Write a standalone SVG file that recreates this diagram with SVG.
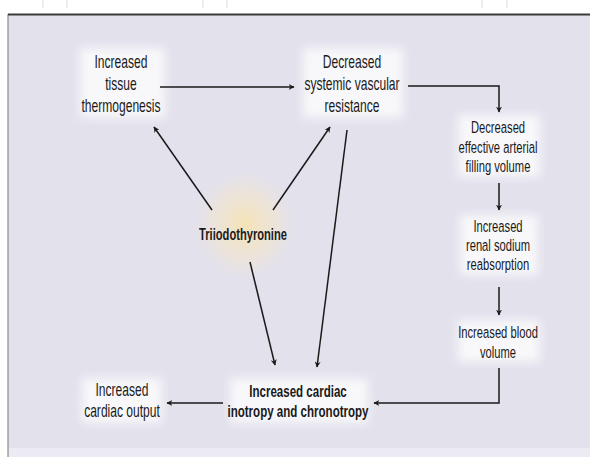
<svg xmlns="http://www.w3.org/2000/svg" width="590" height="457" viewBox="0 0 590 457">
<defs>
<style>
.t{font-family:"Liberation Sans",Arial,sans-serif;fill:#1a1a1a;text-anchor:middle;font-size:17.5px}
.s{font-size:16.5px}
.b{font-weight:bold;font-size:17px}
.c{fill:none;stroke:#1a1a1a;stroke-width:1.5}
</style>
<marker id="ah" viewBox="0 0 10 10" refX="9" refY="5" markerWidth="6" markerHeight="6" orient="auto" markerUnits="userSpaceOnUse">
<path d="M0,0 L10,5 L0,10 L3,5 z" fill="#1a1a1a"/>
</marker>
<radialGradient id="glow" cx="0.5" cy="0.5" r="0.5">
<stop offset="0" stop-color="#f7e3b2" stop-opacity="0.95"/>
<stop offset="0.6" stop-color="#f3e6cc" stop-opacity="0.5"/>
<stop offset="1" stop-color="#e3e1ec" stop-opacity="0"/>
</radialGradient>
<filter id="blur" x="-30%" y="-30%" width="160%" height="160%"><feGaussianBlur stdDeviation="5"/></filter>
</defs>
<rect x="0" y="0" width="590" height="457" fill="#ffffff"/>
<g stroke="#e2e2e2" stroke-width="1.2">
<line x1="43" y1="0" x2="43" y2="8"/><line x1="67" y1="0" x2="67" y2="8"/>
<line x1="203" y1="0" x2="203" y2="8"/><line x1="227" y1="0" x2="227" y2="8"/>
<line x1="482" y1="0" x2="482" y2="8"/><line x1="507" y1="0" x2="507" y2="8"/>
</g>
<rect x="8" y="14" width="582" height="443" fill="#eceaf2"/>
<rect x="8" y="14" width="582" height="434" fill="#e3e1ec"/>
<line x1="8" y1="14" x2="8" y2="457" stroke="#8a8a8a" stroke-width="1.2"/>
<line x1="8" y1="14.5" x2="590" y2="14.5" stroke="#3a3a3a" stroke-width="2"/>
<g filter="url(#blur)" fill="#ffffff" opacity="0.75">
<rect x="80" y="48" width="85" height="70"/>
<rect x="303" y="48" width="100" height="70"/>
<rect x="458" y="115" width="82" height="62"/>
<rect x="460" y="215" width="78" height="60"/>
<rect x="458" y="320" width="82" height="42"/>
<rect x="82" y="378" width="80" height="45"/>
<rect x="230" y="378" width="138" height="45"/>
</g>
<ellipse cx="245" cy="225" rx="55" ry="60" fill="url(#glow)"/>
<g id="connectors">
<line class="c" x1="160" y1="87" x2="294" y2="87" marker-end="url(#ah)"/>
<polyline class="c" points="408,86 499,86 499,112" marker-end="url(#ah)"/>
<line class="c" x1="499" y1="183" x2="499" y2="210" marker-end="url(#ah)"/>
<line class="c" x1="499" y1="287" x2="499" y2="315" marker-end="url(#ah)"/>
<polyline class="c" points="499,368 499,403 374,403" marker-end="url(#ah)"/>
<line class="c" x1="223" y1="403" x2="167" y2="403" marker-end="url(#ah)"/>
<line class="c" x1="212" y1="210" x2="154" y2="127" marker-end="url(#ah)"/>
<line class="c" x1="273" y1="210" x2="330" y2="127" marker-end="url(#ah)"/>
<line class="c" x1="250" y1="262" x2="275" y2="365" marker-end="url(#ah)"/>
<line class="c" x1="347" y1="130" x2="317" y2="367" marker-end="url(#ah)"/>
</g>
<g id="thermogenesis" transform="translate(121,0) scale(0.69,1)"><text class="t" x="0" y="68">Increased</text><text class="t" x="0" y="90">tissue</text><text class="t" x="0" y="112">thermogenesis</text></g>
<g id="svr" transform="translate(352,0) scale(0.69,1)"><text class="t" x="0" y="68">Decreased</text><text class="t" x="0" y="90">systemic vascular</text><text class="t" x="0" y="112">resistance</text></g>
<g id="eafv" transform="translate(498,0) scale(0.68,1)"><text class="t s" x="0" y="133">Decreased</text><text class="t s" x="0" y="153">effective arterial</text><text class="t s" x="0" y="172">filling volume</text></g>
<g id="sodium" transform="translate(498,0) scale(0.68,1)"><text class="t s" x="0" y="232">Increased</text><text class="t s" x="0" y="251">renal sodium</text><text class="t s" x="0" y="270">reabsorption</text></g>
<g id="blood" transform="translate(498,0) scale(0.68,1)"><text class="t s" x="0" y="338">Increased blood</text><text class="t s" x="0" y="358">volume</text></g>
<g id="t3" transform="translate(243,0) scale(0.675,1)"><text class="t b" x="0" y="240" style="font-size:16.5px">Triiodothyronine</text></g>
<g id="inotropy" transform="translate(298,0) scale(0.68,1)"><text class="t b" x="0" y="397">Increased cardiac</text><text class="t b" x="0" y="417">inotropy and chronotropy</text></g>
<g id="output" transform="translate(122,0) scale(0.69,1)"><text class="t" x="0" y="396">Increased</text><text class="t" x="0" y="417">cardiac output</text></g>
</svg>
